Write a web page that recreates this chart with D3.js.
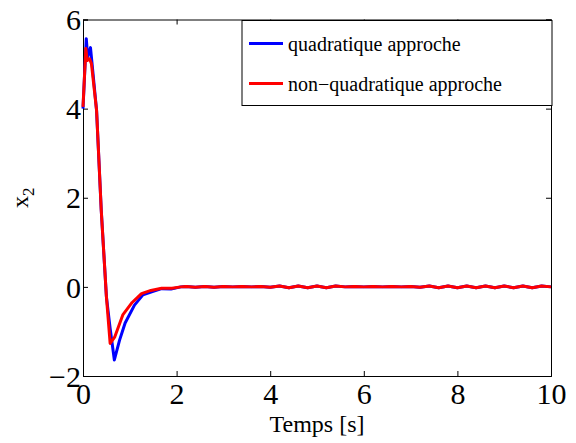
<!DOCTYPE html>
<html><head><meta charset="utf-8">
<script src="https://cdn.jsdelivr.net/npm/d3@7"></script>
<style>html,body{margin:0;padding:0;background:#fff;}svg{display:block;}</style>
</head><body>
<script>
// ---- data ----
const blueT = [0, 0.07, 0.10, 0.16, 0.19, 0.29, 0.39, 0.50, 0.58, 0.67, 0.78, 0.90, 1.10, 1.28, 1.50, 1.68, 1.88, 2.09];
const blueV = [4.0, 5.57, 5.16, 5.37, 5.05, 3.96, 1.72, -0.22, -0.93, -1.64, -1.2, -0.81, -0.41, -0.18, -0.1, -0.04, -0.05, 0.0];
const redT = [0, 0.06, 0.09, 0.14, 0.18, 0.29, 0.39, 0.50, 0.58, 0.68, 0.85, 1.05, 1.25, 1.45, 1.68, 1.90, 2.09];
const redV = [4.04, 5.35, 5.08, 5.12, 5.01, 3.96, 1.72, -0.22, -1.27, -1.12, -0.63, -0.35, -0.15, -0.08, -0.03, -0.03, 0.0];
const tailT = [2.2,2.4,2.6,2.8,3.0,3.2,3.4,3.6,3.8,4.0,4.2,4.4,4.6,4.8,5.0,5.2,5.4,5.6,5.8,6.0,
               6.2,6.4,6.6,6.8,7.0,7.2,7.4,7.6,7.8,8.0,8.2,8.4,8.6,8.8,9.0,9.2,9.4,9.6,9.8,10.0];
const tailV = [0.01,-0.01,0.01,-0.01,0.01,0,0.01,0,0.01,-0.01,0.02,-0.02,0.02,-0.02,0.02,-0.02,0.02,0,0.01,0,
               0.01,0,0.01,0,0.01,-0.01,0.02,-0.02,0.02,-0.02,0.02,-0.02,0.02,-0.02,0.02,-0.02,0.02,-0.02,0.02,0.0];
const xTicks = [0, 2, 4, 6, 8, 10];
const yTicks = [-2, 0, 2, 4, 6];
const seriesNames = ["quadratique approche", "non\u2212quadratique approche"];
const seriesColors = ["#0000ff", "#ff0000"];

// ---- layout ----
const W = 576, H = 443;
const m = {left: 83, right: 25, top: 19.5, bottom: 67};
const iw = W - m.left - m.right, ih = H - m.top - m.bottom;

const svg = d3.select("body").append("svg").attr("width", W).attr("height", H);
const g = svg.append("g").attr("transform", `translate(${m.left},${m.top})`);

const x = d3.scaleLinear().domain([0, 10]).range([0, iw]);
const y = d3.scaleLinear().domain([-2, 6]).range([ih, 0]);

const fmt = d => String(d).replace("-", "\u2212");
const font = "'Liberation Serif', 'Times New Roman', serif";

// axes
const axB = g.append("g").attr("transform", `translate(0,${ih})`)
  .call(d3.axisBottom(x).tickValues(xTicks).tickSize(-5).tickPadding(7).tickFormat(fmt));
const axT = g.append("g")
  .call(d3.axisTop(x).tickValues(xTicks).tickSize(-5).tickFormat(""));
const axL = g.append("g")
  .call(d3.axisLeft(y).tickValues(yTicks).tickSize(-5).tickPadding(2).tickFormat(fmt));
const axR = g.append("g").attr("transform", `translate(${iw},0)`)
  .call(d3.axisRight(y).tickValues(yTicks).tickSize(-5).tickFormat(""));
[axB, axT, axL, axR].forEach(a => {
  a.select(".domain").attr("stroke", "#000").attr("stroke-width", 1);
  a.selectAll(".tick line").attr("stroke", "#000").attr("stroke-width", 1);
  a.selectAll("text").attr("font-family", font).attr("font-size", 30).attr("fill", "#000");
});
axB.selectAll("text").attr("dy", "0.71em");
axL.selectAll("text").attr("dy", "0.34em");

// data lines
const toPts = (ts, vs) => ts.map((t, i) => [t, vs[i]]);
const blue = toPts(blueT, blueV).concat(toPts(tailT, tailV));
const red = toPts(redT, redV).concat(toPts(tailT, tailV));
const line = d3.line().x(d => x(d[0])).y(d => y(d[1]));
[blue, red].forEach((pts, i) => {
  g.append("path").attr("d", line(pts)).attr("fill", "none")
    .attr("stroke", seriesColors[i]).attr("stroke-width", 3).attr("stroke-linejoin", "round");
});

// legend
const lg = svg.append("g").attr("transform", "translate(242,20.5)");
lg.append("rect").attr("width", 310).attr("height", 85).attr("fill", "#fff").attr("stroke", "#000").attr("stroke-width", 1);
seriesNames.forEach((name, i) => {
  const yy = 23 + i * 40;
  lg.append("line").attr("x1", 7).attr("x2", 41).attr("y1", yy).attr("y2", yy)
    .attr("stroke", seriesColors[i]).attr("stroke-width", 3);
  lg.append("text").attr("x", 46).attr("y", yy + 7).text(name)
    .attr("font-family", font).attr("font-size", 20).attr("fill", "#000");
});

// axis labels
svg.append("text").attr("x", m.left + iw / 2).attr("y", 432).attr("text-anchor", "middle")
  .attr("font-family", font).attr("font-size", 24).text("Temps [s]");
const yl = svg.append("text").attr("transform", "translate(28,208) rotate(-90)")
  .attr("font-family", font).attr("font-size", 24);
yl.append("tspan").text("x");
yl.append("tspan").attr("font-size", 17).attr("dy", 6).text("2");
</script>
</body></html>
